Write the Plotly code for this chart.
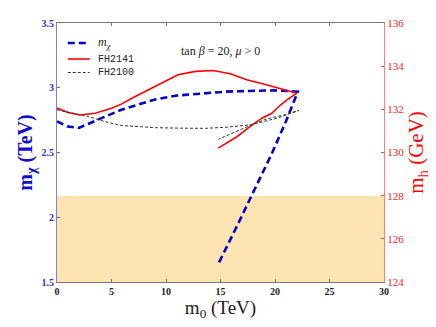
import plotly.graph_objects as go

# blue dashed: m_chi (left axis, TeV)
mchi_m0 = [0, 1.0, 2.0, 3.3, 4.5, 5.9, 7.5, 9.0, 11.0, 13.6, 15.5, 17.5, 20.0, 22.1,
           21.0, 19.7, 18.0, 16.5, 14.8]
mchi = [2.74, 2.70, 2.69, 2.74, 2.78, 2.83, 2.87, 2.91, 2.94, 2.96, 2.97, 2.975, 2.98, 2.97,
        2.74, 2.49, 2.19, 1.93, 1.64]

# red solid: FH2141 (right axis, GeV)
fh2141_m0 = [0, 1.0, 2.1, 3.5, 5.0, 5.9, 7.0, 8.4, 9.8, 11.1, 12.7, 14.3, 15.9, 17.4, 19.2, 20.5, 22.0,
             21.1, 20.5, 19.7, 18.8, 17.7, 16.5, 14.8]
fh2141 = [132.06, 131.85, 131.74, 131.82, 132.05, 132.24, 132.55, 132.9, 133.25, 133.6, 133.76, 133.8,
          133.65, 133.37, 133.14, 132.97, 132.75,
          132.44, 132.2, 131.82, 131.59, 131.2, 130.73, 130.2]

# black dashed: FH2100 (right axis, GeV)
fh2100_m0 = [0, 1.5, 2.85, 4.4, 5.9, 7.5, 9.0, 11.0, 13.6, 15.5, 17.7, 20.2, 22.2,
             20.8, 19.2, 17.7, 16.2, 14.8]
fh2100 = [131.98, 131.8, 131.67, 131.43, 131.25, 131.2, 131.15, 131.13, 131.12, 131.17, 131.28, 131.59, 131.95,
          131.74, 131.55, 131.25, 130.9, 130.61]

band_mh = [124, 128]
serif = "Liberation Serif"

styles = [dict(color="#0000cc", width=2.6, dash="7px,4px"),
          dict(color="#ff0000", width=1.6),
          dict(color="#333333", width=1, dash="3px,2px")]
labels = ["<i>m<sub>χ</sub></i>", "FH2141", "FH2100"]

fig = go.Figure()
fig.add_trace(go.Scatter(x=mchi_m0, y=mchi, mode="lines", name=labels[0], line=styles[0]))
fig.add_trace(go.Scatter(x=fh2141_m0, y=fh2141, mode="lines", name=labels[1], yaxis="y2", line=styles[1]))
fig.add_trace(go.Scatter(x=fh2100_m0, y=fh2100, mode="lines", name=labels[2], yaxis="y2", line=styles[2]))

fig.add_shape(type="rect", xref="x", yref="y2", x0=0, x1=30, y0=band_mh[0], y1=band_mh[1],
              fillcolor="rgb(253,228,178)", line_width=0, layer="below")

# hand-made legend (tighter rows than plotly's own)
rows_y = [0.923, 0.861, 0.809]
for lab, st, yy in zip(labels, styles, rows_y):
    fig.add_shape(type="line", xref="paper", yref="paper", x0=0.033, x1=0.10, y0=yy, y1=yy,
                  line=st)
    fam = serif if lab.startswith("<i>") else "Liberation Mono"
    fig.add_annotation(text=lab, xref="paper", yref="paper", x=0.118, y=yy, xanchor="left",
                       yanchor="middle", showarrow=False,
                       font=dict(family=fam, size=12 if fam == serif else 10, color="#222"))

fig.add_annotation(text="tan <i>β</i> = 20, <i>μ</i> > 0", xref="paper", yref="paper",
                   x=0.5, y=0.925, showarrow=False, font=dict(family=serif, size=12, color="#222"))

fig.update_layout(
    width=436, height=327,
    margin=dict(l=57, r=52, t=23, b=45),
    plot_bgcolor="white", paper_bgcolor="white",
    showlegend=False,
    xaxis=dict(range=[0, 30], tickvals=[0, 5, 10, 15, 20, 25, 30], showgrid=False, zeroline=False,
               showline=True, linecolor="#777", mirror="ticks", ticks="inside", ticklen=3,
               tickcolor="#777",
               tickfont=dict(family=serif, size=10, color="#222", weight="bold"),
               title=dict(text="m<sub>0</sub> (TeV)", font=dict(family=serif, size=19, color="#222"),
                          standoff=0)),
    yaxis=dict(range=[1.5, 3.5], tickvals=[1.5, 2, 2.5, 3, 3.5], ticktext=["1.5", "2", "2.5", "3", "3.5"],
               showgrid=False, zeroline=False, showline=True, linecolor="#8080e0",
               ticks="inside", ticklen=3, tickcolor="#6060d0",
               tickfont=dict(family=serif, size=10, color="#3030cc", weight="bold"),
               title=dict(text="m<sub>χ</sub> (TeV)", font=dict(family=serif, size=20, color="#1010cc", weight="bold"),
                          standoff=3)),
    yaxis2=dict(range=[124, 136], tickvals=[124, 126, 128, 130, 132, 134, 136], overlaying="y", side="right",
                showgrid=False, zeroline=False, showline=True, linecolor="#ff8080",
                ticks="inside", ticklen=3, tickcolor="#ff4040",
                tickfont=dict(family=serif, size=11, color="#ff2020"),
                title=dict(text="m<sub>h</sub> (GeV)", font=dict(family=serif, size=21, color="#ff0000"),
                           standoff=1)),
)

fig.write_html("out.html", config={"displayModeBar": False},
               post_script="document.body.style.margin='0';")
